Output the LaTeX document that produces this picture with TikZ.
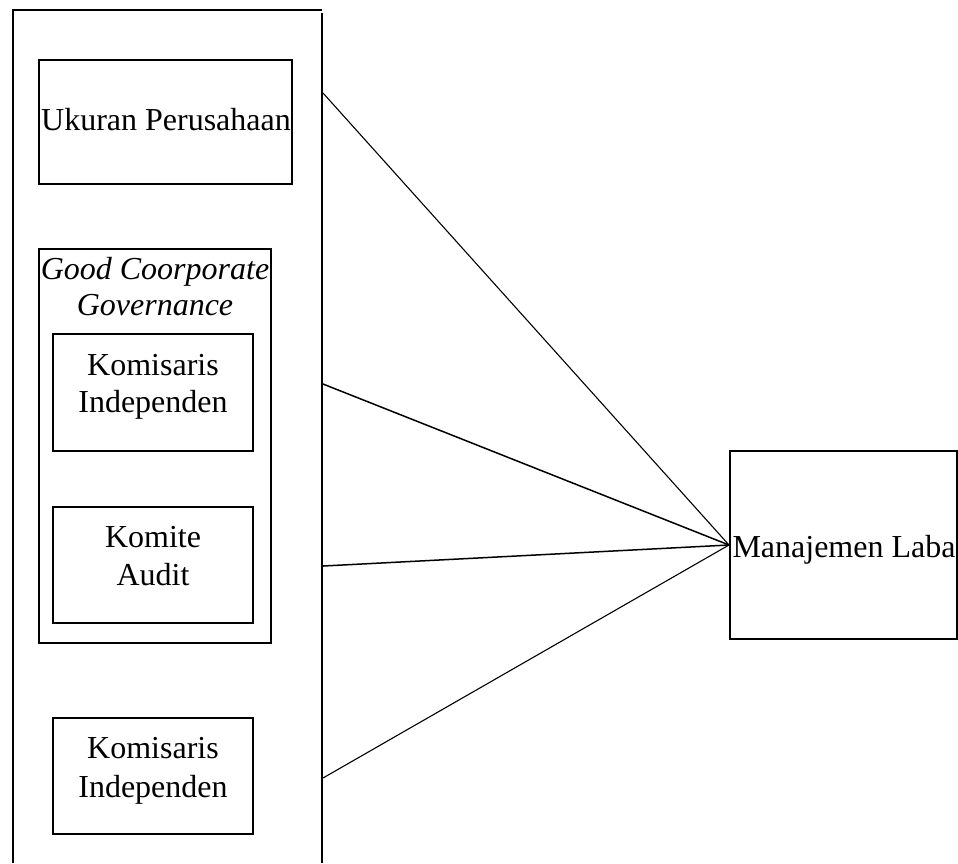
\documentclass[tikz,border=0pt]{standalone}
\usepackage{fontspec}
\setmainfont{Liberation Serif}
\begin{document}
\begin{tikzpicture}[x=1pt,y=-1pt,
  box/.style={draw,line width=2pt,rectangle,inner sep=0pt},
  txt/.style={inner sep=0pt,anchor=base,font=\fontsize{32}{37}\selectfont},
  frame/.style={line width=1.6pt},
  conn/.style={line width=1.1pt}]
\useasboundingbox (0,0) rectangle (958,863);
% outer frame
\draw[frame] (13,863) -- (13,10) -- (322,10);
\draw[frame] (322,13) -- (322,863);
% boxes
\node[box,minimum width=253pt,minimum height=124pt] (up) at (165.5,122) {};
\node[box,minimum width=232pt,minimum height=394pt] (gcg) at (155,446) {};
\node[box,minimum width=200pt,minimum height=117pt] (ki1) at (153,392.5) {};
\node[box,minimum width=200pt,minimum height=116pt] (ka) at (153,565) {};
\node[box,minimum width=200pt,minimum height=116pt] (ki2) at (153,776) {};
\node[box,minimum width=227pt,minimum height=188pt] (ml) at (843.5,545) {};
% texts
\node[txt] (tup) at (166,130) {Ukuran Perusahaan};
\node[txt] (tg1) at (155,279) {\itshape Good Coorporate};
\node[txt] (tg2) at (155,315) {\itshape Governance};
\node[txt] (tk1a) at (153,375) {Komisaris};
\node[txt] (tk1b) at (153,412) {Independen};
\node[txt] (tkaa) at (153,547) {Komite};
\node[txt] (tkab) at (153,585) {Audit};
\node[txt] (tk2a) at (153,758) {Komisaris};
\node[txt] (tk2b) at (153,797) {Independen};
\node[txt] (tml) at (844,557) {Manajemen Laba};
% connectors
\coordinate (c1) at (323,93);
\coordinate (c2) at (323,384);
\coordinate (c3) at (323,566);
\coordinate (c4) at (323,778);
\draw[conn] (c1) -- (ml.west);
\draw[conn,line width=1.5pt] (c2) -- (ml.west);
\draw[conn,line width=1.5pt] (c3) -- (ml.west);
\draw[conn] (c4) -- (ml.west);
\end{tikzpicture}
\end{document}
